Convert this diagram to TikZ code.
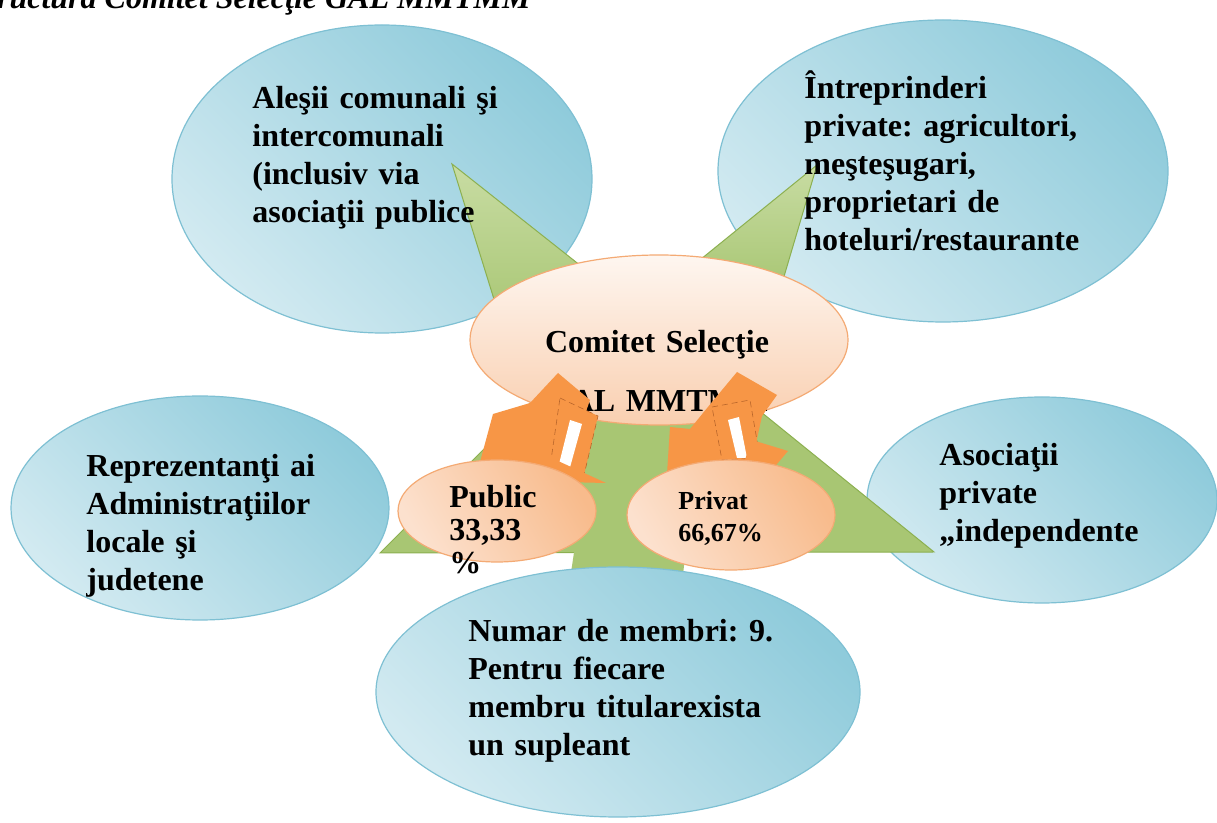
\documentclass[tikz,border=0pt]{standalone}
\usepackage{fontspec}
\setmainfont{Liberation Serif}
\usetikzlibrary{shapes.geometric}
\definecolor{blueL}{HTML}{D2EAF1}
\definecolor{blueD}{HTML}{8FCBDB}
\definecolor{blueE}{HTML}{7EC0D3}
\definecolor{greenF}{HTML}{A8C673}
\definecolor{greenL}{HTML}{C8DCA3}
\definecolor{greenE}{HTML}{8CB050}
\definecolor{peachT}{HTML}{FEF6F0}
\definecolor{peachB}{HTML}{F9CFB0}
\definecolor{peachE}{HTML}{F4AA74}
\definecolor{salL}{HTML}{FCE1CE}
\definecolor{salD}{HTML}{F8BB8C}
\definecolor{orangeA}{HTML}{F79646}
\definecolor{orangeE}{HTML}{B8652A}
\begin{document}
\frenchspacing
\begin{tikzpicture}[x=0.5pt,y=-0.5pt,
  blueell/.style={ellipse, draw=blueE, line width=0.6pt, bottom color=blueL, top color=blueD, shading angle=-45, inner sep=0pt},
  peachell/.style={ellipse, draw=peachE, line width=0.6pt, top color=peachT, bottom color=peachB, inner sep=0pt},
  salell/.style={ellipse, draw=peachE, line width=0.6pt, bottom color=salL, top color=salD, shading angle=-60, inner sep=0pt},
  wedge/.style={top color=greenL, bottom color=greenF, draw=greenE, line width=0.5pt},
  wedgeflat/.style={fill=greenF, draw=greenE, line width=0.5pt},
  arrowpart/.style={fill=orangeA},
  barpart/.style={fill=orangeA, draw=orangeE, line width=0.3pt, densely dashed},
  stripe/.style={fill=white},
  txt/.style={anchor=base west, inner sep=0pt, align=left, text width=160pt, font=\frenchspacing\bfseries\fontsize{16pt}{19pt}\selectfont},
]
\useasboundingbox (0,0) rectangle (1217,823);
\clip (0,0) rectangle (1217,823);
\fill[white] (0,0) rectangle (1217,823);

% title (cut by the top edge)
\node[anchor=base west, inner sep=0pt, font=\bfseries\itshape\fontsize{16pt}{19pt}\selectfont] (title) at (-30,9) {Structura Comitet Selecţie GAL MMTMM};

% outer ellipses
\node[blueell, minimum width=210pt, minimum height=154pt] (tl) at (382,179) {};
\node[blueell, minimum width=225pt, minimum height=151pt] (tr) at (943,171) {};
\node[blueell, minimum width=189pt, minimum height=112pt] (lf) at (200,508) {};
\node[blueell, minimum width=175pt, minimum height=103pt] (rt) at (1042,500) {};

% green callout wedges
\path[wedge] (452,164) -- (502,325) -- (605,285) -- cycle;
\path[wedge] (817,165) -- (690,268) -- (780,290) -- cycle;
\path[wedgeflat] (380,553) -- (548,385) -- (740,395) -- (934,552) -- cycle;
\path[fill=greenF] (592,430) -- (567,600) -- (680,600) -- (700,430) -- cycle;

% bottom ellipse
\node[blueell, minimum width=242pt, minimum height=125pt] (bt) at (618,692) {};

% centre ellipse
\node[peachell, minimum width=189pt, minimum height=85pt] (ctr) at (659,340) {};
\node[anchor=base, inner sep=0pt, align=center, text width=220pt, font=\frenchspacing\bfseries\fontsize{16pt}{19pt}\selectfont] (ctrT) at (657,353) {Comitet Selecţie\\[10.5pt]GAL MMTMM};

% left orange arrow
\path[arrowpart] (558,373) -- (590,400) -- (572,452) -- (500,495) -- (480,462) -- (493,414) -- (530,403) -- cycle;
\path[barpart] (560,398) -- (598,416) -- (584,475) -- (550,467) -- cycle;
\path[stripe] (570,420) -- (582,424) -- (569,471) -- (558,468) -- cycle;
\path[arrowpart] (520,447) -- (545,455) -- (606,483) -- (562,482) -- cycle;

% right orange arrow
\path[arrowpart] (737,372) -- (777,395) -- (762,416) -- (752,462) -- (667,474) -- (670,427) -- (690,429) -- (712,402) -- cycle;
\path[barpart] (712,407) -- (750,400) -- (760,458) -- (722,460) -- cycle;
\path[stripe] (728,420) -- (739,417) -- (747,458) -- (737,458) -- cycle;
\path[arrowpart] (752,440) -- (788,451) -- (772,470) -- (742,468) -- cycle;

% small ellipses
\node[salell, minimum width=99pt, minimum height=51pt] (pub) at (497,511) {};
\node[salell, minimum width=104pt, minimum height=55pt] (priv) at (731,515) {};

% texts
\node[txt] (tlT) at (252,109) {Aleşii comunali şi\\intercomunali\\(inclusiv via\\asociaţii publice};
\node[txt] (trT) at (804,99) {Întreprinderi\\private: agricultori,\\meşteşugari,\\proprietari de\\hoteluri/restaurante};
\node[txt] (lfT) at (86,477) {Reprezentanţi ai\\Administraţiilor\\locale şi\\judetene};
\node[txt] (rtT) at (939,466) {Asociaţii\\private\\„independente};
\node[txt] (btT) at (468,642) {Numar de membri: 9.\\Pentru fiecare\\membru titularexista\\un supleant};
\node[txt, text width=60pt, font=\bfseries\fontsize{16pt}{16.5pt}\selectfont] (pubT) at (449,508) {Public\\33,33\\\%};
\node[txt, text width=60pt, font=\bfseries\fontsize{13pt}{16pt}\selectfont] (privT) at (678,510) {Privat\\66,67\%};
\end{tikzpicture}
\end{document}
